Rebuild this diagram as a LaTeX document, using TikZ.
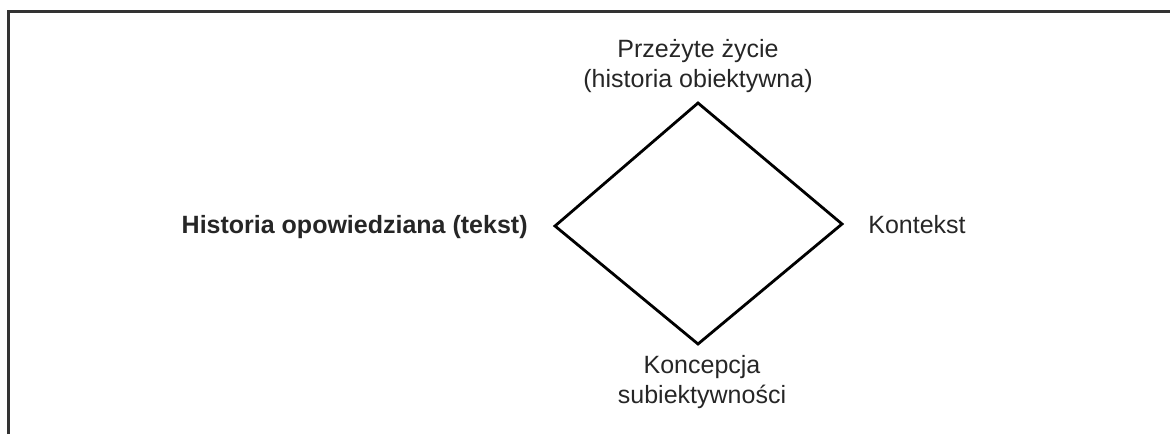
\documentclass[tikz,border=0pt]{standalone}
\usepackage{fontspec}
\setmainfont{Liberation Sans}
\begin{document}
\begin{tikzpicture}[x=0.5pt,y=-0.5pt,
  label/.style={inner sep=0pt,font=\fontsize{12.5pt}{15pt}\selectfont,align=center,text=black!85},
  edge/.style={line width=1.4pt,black,line join=miter},
  frame/.style={line width=1.5pt,black!80}]
  \useasboundingbox (0,0) rectangle (1170,434);
  % frame (top and left sides)
  \coordinate (fb) at (8,434);
  \coordinate (fc) at (8,11);
  \coordinate (fr) at (1170,11);
  \draw[frame] (fb) -- (fc) -- (fr);
  % diamond corners
  \coordinate (t) at (698,103);
  \coordinate (r) at (842,224);
  \coordinate (b) at (698,344);
  \coordinate (l) at (555,226);
  \draw[edge] (t) -- (r) -- (b) -- (l) -- cycle;
  % labels
  \node[label] (top) at (698,66) {Przeżyte życie\\(historia obiektywna)};
  \node[label,anchor=east,font=\fontsize{12.5pt}{15pt}\selectfont\bfseries] (left) at (528,227) {Historia opowiedziana (tekst)};
  \node[label,anchor=west] (right) at (868,225) {Kontekst};
  \node[label] (bottom) at (702,382) {Koncepcja\\subiektywności};
\end{tikzpicture}
\end{document}
